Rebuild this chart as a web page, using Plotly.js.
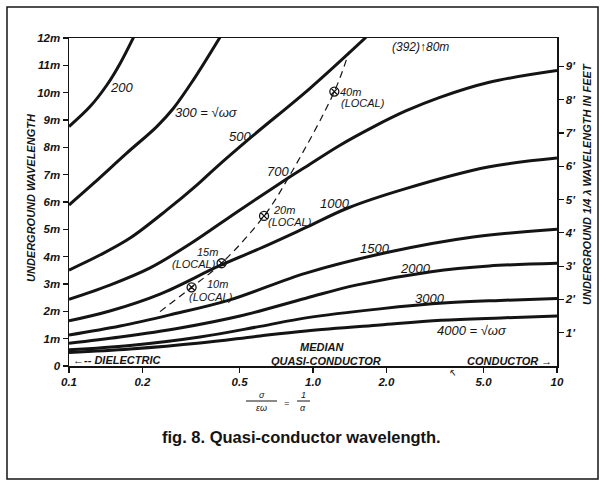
<!DOCTYPE html>
<html>
<head>
<meta charset="utf-8">
<script src="https://cdn.plot.ly/plotly-3.0.1.min.js"></script>
<style>html,body{margin:0;padding:0;background:#fff;}#chart{width:606px;height:486px;}</style>
</head>
<body>
<div id="chart"></div>
<script>
// ---- data (x = sigma/(eps*omega), y = underground wavelength in metres) ----
const curveLabels = ['200','300','500','700','1000','1500','2000','3000','4000'];

const x200 = [0.1, 0.122, 0.143, 0.162, 0.184];
const lam200 = [8.76, 9.49, 10.28, 11.07, 12.03];

const x300 = [0.1, 0.126, 0.172, 0.229, 0.268, 0.323, 0.416];
const lam300 = [5.89, 6.68, 7.78, 8.76, 9.43, 10.46, 12.03];

const x500 = [0.1, 0.134, 0.178, 0.252, 0.334, 0.39, 0.561, 0.972, 1.65];
const lam500 = [3.51, 4.06, 4.68, 5.71, 6.62, 7.17, 8.39, 10.16, 12.03];

const x700 = [0.1, 0.147, 0.215, 0.313, 0.502, 0.805, 0.936, 1.28, 1.76, 2.4, 3.29, 5.28, 10];
const lam700 = [2.44, 2.96, 3.59, 4.46, 5.71, 6.92, 7.29, 8.06, 8.74, 9.33, 9.82, 10.38, 10.81];

const x1000 = [0.1, 0.147, 0.236, 0.412, 0.624, 0.927, 1.39, 2.38, 5.22, 10];
const lam1000 = [1.65, 2.01, 2.63, 3.66, 4.35, 5.05, 5.78, 6.48, 7.28, 7.61];

const x1500 = [0.1, 0.162, 0.259, 0.457, 0.936, 2.05, 4.53, 10];
const lam1500 = [1.13, 1.46, 1.87, 2.42, 3.40, 4.17, 4.72, 5.00];

const x2000 = [0.1, 0.162, 0.285, 0.502, 0.936, 1.5, 3.05, 5.27, 10];
const lam2000 = [0.83, 1.06, 1.39, 1.83, 2.48, 2.96, 3.45, 3.66, 3.76];

const x3000 = [0.1, 0.178, 0.344, 0.607, 0.936, 1.88, 3.54, 5.84, 10];
const lam3000 = [0.59, 0.75, 1.06, 1.45, 1.76, 2.09, 2.31, 2.40, 2.47];

const x4000 = [0.1, 0.178, 0.344, 0.607, 0.936, 1.88, 3.35, 5.9, 10];
const lam4000 = [0.49, 0.62, 0.84, 1.10, 1.28, 1.50, 1.67, 1.76, 1.83];

// local measurements (circled points) and the dashed locus through them
const localNames = ['10m', '15m', '20m', '40m'];
const localX = [0.318, 0.422, 0.63, 1.223];
const localLam = [2.88, 3.76, 5.49, 10.04];
const pathX = [0.236, 0.318, 0.422, 0.63, 0.805, 1.223, 1.405];
const pathLam = [1.99, 2.88, 3.76, 5.49, 6.99, 10.04, 11.5];

// tick labels
const xTickVals = [0.1, 0.2, 0.5, 1, 2, 5, 10];
const xTickText = ['0.1', '0.2', '0.5', '1.0', '2.0', '5.0', '10'];
const yTickVals = [0,1,2,3,4,5,6,7,8,9,10,11,12];
const yTickText = ['0','1m','2m','3m','4m','5m','6m','7m','8m','9m','10m','11m','12m'];
const ftTickVals = [1,2,3,4,5,6,7,8,9];
const ftTickText = ["1'","2'","3'","4'","5'","6'","7'","8'","9'"];

// ---- drawing ----
const INK = '#141414';
const FONT = 'Liberation Sans, Arial, Helvetica, sans-serif';
const L = 69, R = 557, T = 38, B = 366;
const px = v => (v - L) / (R - L);
const py = v => (B - v) / (B - T);

const seriesX = [x200, x300, x500, x700, x1000, x1500, x2000, x3000, x4000];
const seriesY = [lam200, lam300, lam500, lam700, lam1000, lam1500, lam2000, lam3000, lam4000];

const traces = seriesX.map((xs, i) => ({
  x: xs, y: seriesY[i], mode: 'lines', name: curveLabels[i],
  line: {color: INK, width: 3, shape: 'spline', smoothing: 1},
  hoverinfo: 'skip', showlegend: false
}));
traces.push({
  x: pathX, y: pathLam, mode: 'lines',
  line: {color: INK, width: 1.2, dash: '7px,5px', shape: 'spline', smoothing: 1},
  hoverinfo: 'skip', showlegend: false
});
traces.push({
  x: localX, y: localLam, mode: 'markers', text: localNames,
  marker: {symbol: 'circle-x-open', size: 9, color: INK, line: {width: 1.3, color: INK}},
  hoverinfo: 'skip', showlegend: false
});
traces.push({x: [0.1], y: [0], yaxis: 'y2', mode: 'markers', marker: {opacity: 0}, hoverinfo: 'skip', showlegend: false});

function A(text, x, y, o) {
  return Object.assign({
    text: text, x: px(x), y: py(y), xref: 'paper', yref: 'paper', showarrow: false,
    xanchor: 'center', yanchor: 'middle', borderpad: 0,
    font: {family: FONT, size: 12, color: INK, style: 'italic'}
  }, o || {});
}
const f = (size, extra) => Object.assign({family: FONT, size: size, color: INK, style: 'italic'}, extra || {});
const fb = size => f(size, {weight: 'bold'});

const annotations = [
  A('200', 121, 87, {font: f(13)}),
  A('300 = √ωσ', 206, 112, {font: f(13)}),
  A('500', 240, 136, {font: f(13)}),
  A('700', 278, 171, {font: f(13)}),
  A('1000', 335, 203, {font: f(13)}),
  A('1500', 375, 248, {font: f(13)}),
  A('2000', 415, 268, {font: f(13)}),
  A('3000', 430, 298, {font: f(13)}),
  A('4000 = √ωσ', 472, 330, {font: f(13)}),
  A('(392)↑80m', 420, 47, {font: f(12)}),
  A('40m', 339, 92, {xanchor: 'left', font: f(11)}),
  A('(LOCAL)', 340, 103, {xanchor: 'left', font: f(11)}),
  A('20m', 272, 210, {xanchor: 'left', font: f(11)}),
  A('(LOCAL)', 267, 222, {xanchor: 'left', font: f(11)}),
  A('15m', 196, 252, {xanchor: 'left', font: f(11)}),
  A('(LOCAL)', 217, 264, {xanchor: 'right', font: f(11)}),
  A('10m', 206, 284, {xanchor: 'left', font: f(11)}),
  A('(LOCAL)', 188, 297, {xanchor: 'left', font: f(11)}),
  A('MEDIAN', 322, 347, {font: fb(11)}),
  A('QUASI-CONDUCTOR', 326, 361, {font: fb(11)}),
  A('←-- DIELECTRIC', 72, 360, {xanchor: 'left', font: fb(11)}),
  A('CONDUCTOR →', 553, 361, {xanchor: 'right', font: fb(11)}),
  A('↖', 452, 373, {font: f(10)}),
  A('UNDERGROUND WAVELENGTH', 31, 198, {textangle: -90, font: fb(11)}),
  A('UNDERGROUND 1/4 λ WAVELENGTH IN FEET', 587, 184, {textangle: -90, font: fb(11)}),
  A('σ', 262, 395, {font: f(9)}),
  A('εω', 261, 408, {font: f(9)}),
  A('=', 286, 403, {font: f(9)}),
  A('1', 303, 395, {font: f(9)}),
  A('α', 303, 408, {font: f(9)}),
  A('fig. 8. Quasi-conductor wavelength.', 301, 437, {font: {family: FONT, size: 16.5, color: INK, weight: 'bold'}})
];

const shapes = [
  {type: 'rect', xref: 'paper', yref: 'paper', x0: px(7), x1: px(598), y0: py(7), y1: py(479), line: {color: INK, width: 1.5}},
  {type: 'line', xref: 'paper', yref: 'paper', x0: px(246), x1: px(277), y0: py(401), y1: py(401), line: {color: INK, width: 1}},
  {type: 'line', xref: 'paper', yref: 'paper', x0: px(297), x1: px(310), y0: py(401), y1: py(401), line: {color: INK, width: 1}}
];

const layout = {
  width: 606, height: 486,
  margin: {l: L, r: 606 - R, t: T, b: 486 - B, pad: 0},
  paper_bgcolor: '#fff', plot_bgcolor: '#fff',
  showlegend: false,
  font: {family: FONT, color: INK},
  xaxis: {
    type: 'log', range: [-1, 1], tickmode: 'array', tickvals: xTickVals, ticktext: xTickText,
    showgrid: false, zeroline: false, showline: true, mirror: true, linecolor: INK, linewidth: 1.5,
    ticks: 'outside', ticklen: 5, tickwidth: 1.2, tickcolor: INK,
    tickfont: fb(11.5)
  },
  yaxis: {
    range: [0, 12], tickmode: 'array', tickvals: yTickVals, ticktext: yTickText,
    showgrid: false, zeroline: false, showline: true, mirror: true, linecolor: INK, linewidth: 1.5,
    ticks: 'outside', ticklen: 5, tickwidth: 1.2, tickcolor: INK,
    tickfont: fb(11.5)
  },
  yaxis2: {
    overlaying: 'y', side: 'right', range: [0, 9.85], tickmode: 'array', tickvals: ftTickVals, ticktext: ftTickText,
    showgrid: false, zeroline: false, showline: true, linecolor: INK, linewidth: 1.5,
    ticks: 'outside', ticklen: 5, tickwidth: 1.2, tickcolor: INK,
    tickfont: fb(11.5)
  },
  annotations: annotations,
  shapes: shapes
};

Plotly.newPlot('chart', traces, layout, {staticPlot: true, displayModeBar: false});
</script>
</body>
</html>
